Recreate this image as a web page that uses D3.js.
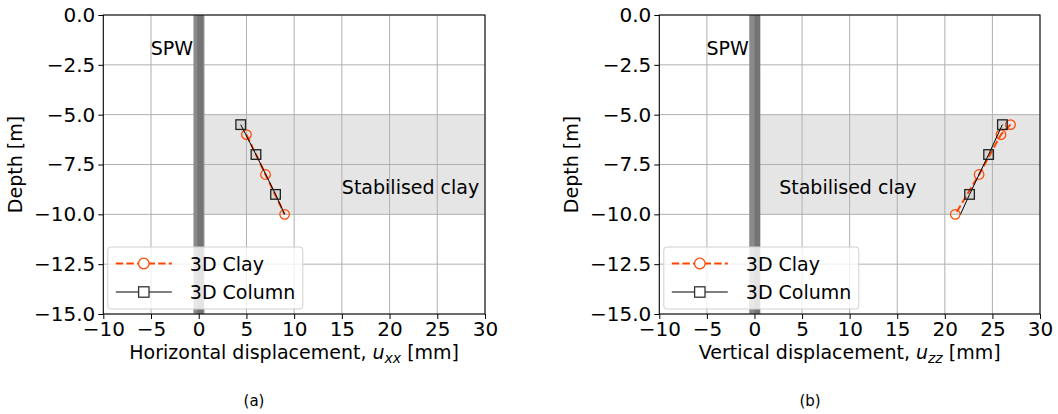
<!DOCTYPE html>
<html><head><meta charset="utf-8">
<script src="https://cdn.jsdelivr.net/npm/d3@7"></script>
<style>body{margin:0;background:#fff}svg{display:block}text{font-family:"DejaVu Sans",sans-serif}</style>
</head><body><svg id="c" width="1058" height="414"></svg>
<script>
// ---- data ----
const xTicks = [-10, -5, 0, 5, 10, 15, 20, 25, 30];
const yTicks = [0, -2.5, -5, -7.5, -10, -12.5, -15];
const legendLabels = ["3D Clay", "3D Column"];
const captions = ["(a)", "(b)"];
const xLabels = [["Horizontal displacement, ", "u", "xx", " [mm]"], ["Vertical displacement, ", "u", "zz", " [mm]"]];

// Panel (a): horizontal displacement
const clayDepthA = [-6, -8, -10];
const clayUxx = [5.0, 7.0, 9.0];
const colDepthA = [-5.5, -7, -9, -10];
const colUxx = [4.4, 6.0, 8.05, 9.0];
const colMarkDepthA = [-5.5, -7, -9];

// Panel (b): vertical displacement
const clayDepthB = [-5.5, -6, -8, -10];
const clayUzz = [26.9, 25.9, 23.6, 21.1];
const colDepthB = [-5.5, -7, -9, -10];
const colUzz = [26.05, 24.6, 22.6, 21.65];
const colMarkDepthB = [-5.5, -7, -9];

const stabDepth = [-5, -10];   // stabilised clay layer
const spwX = [-0.55, 0.6];      // sheet pile wall extent

const svg = d3.select("#c");
const FS = 19;
const TFS = 20;
const ORANGE = "#ff4500";

function panel(o) {
  const g = svg.append("g");
  const x = d3.scaleLinear().domain([-10, 30]).range([o.x0, o.x1]);
  const y = d3.scaleLinear().domain([0, -15]).range([15, 314]);
  // stabilised clay fill
  g.append("rect").attr("x", x(spwX[1])).attr("y", y(stabDepth[0]))
    .attr("width", x(30) - x(spwX[1])).attr("height", y(stabDepth[1]) - y(stabDepth[0]))
    .attr("fill", "#e5e5e5");
  // grid
  g.selectAll(".gx").data(xTicks).join("line")
    .attr("x1", d => x(d)).attr("x2", d => x(d)).attr("y1", y(0)).attr("y2", y(-15))
    .attr("stroke", "#b0b0b0").attr("stroke-width", 1);
  g.selectAll(".gy").data(yTicks).join("line")
    .attr("y1", d => y(d)).attr("y2", d => y(d)).attr("x1", x(-10)).attr("x2", x(30))
    .attr("stroke", "#b0b0b0").attr("stroke-width", 1);
  // SPW band
  g.append("rect").attr("x", x(spwX[0])).attr("y", y(0)).attr("width", x(spwX[1]) - x(spwX[0]))
    .attr("height", y(-15) - y(0)).attr("fill", "#8a8a8a");
  g.append("rect").attr("x", x(o.inner[0])).attr("y", y(0)).attr("width", x(o.inner[1]) - x(o.inner[0]))
    .attr("height", y(-15) - y(0)).attr("fill", "#747474");
  // annotations
  g.append("text").attr("x", x(-0.6)).attr("y", y(-2)).attr("text-anchor", "end")
    .attr("font-size", FS).text("SPW");
  g.append("text").attr("x", x(o.stabX)).attr("y", y(-9)).attr("font-size", FS).text("Stabilised clay");

  // series
  const clay = d3.zip(o.clayX, o.clayD);
  const col = d3.zip(o.colX, o.colD);
  const line = d3.line().x(d => x(d[0])).y(d => y(d[1]));
  g.append("path").attr("d", line(clay)).attr("fill", "none").attr("stroke", ORANGE)
    .attr("stroke-width", 2).attr("stroke-dasharray", "7.4,3.2");
  g.selectAll(".cm").data(clay).join("circle").attr("cx", d => x(d[0])).attr("cy", d => y(d[1]))
    .attr("r", 4.8).attr("fill", "none").attr("stroke", ORANGE).attr("stroke-width", 1.2);
  g.append("path").attr("d", line(col)).attr("fill", "none").attr("stroke", "#000").attr("stroke-width", 1);
  g.selectAll(".sm").data(col.filter(d => o.colMark.includes(d[1]))).join("rect")
    .attr("x", d => x(d[0]) - 4.8).attr("y", d => y(d[1]) - 4.8).attr("width", 9.6).attr("height", 9.6)
    .attr("fill", "rgba(0,0,0,0.06)").attr("stroke", "#222").attr("stroke-width", 1.3);

  // axes
  const ax = g.append("g").attr("transform", `translate(0,${y(-15)})`)
    .call(d3.axisBottom(x).tickValues(xTicks).tickSize(5).tickPadding(3).tickFormat(d => d3.format("")(d).replace("-", "\u2212")));
  const ay = g.append("g").attr("transform", `translate(${x(-10)},0)`)
    .call(d3.axisLeft(y).tickValues(yTicks).tickSize(5).tickPadding(3).tickFormat(d => d3.format(".1f")(d).replace("-", "\u2212")));
  [ax, ay].forEach(a => {
    a.selectAll("text").attr("font-size", TFS).attr("fill", "#000").attr("font-family", "DejaVu Sans");
    a.selectAll("line").attr("stroke", "#000").attr("stroke-width", 1);
    a.select(".domain").remove();
  });
  g.append("rect").attr("x", x(-10)).attr("y", y(0)).attr("width", x(30) - x(-10)).attr("height", y(-15) - y(0))
    .attr("fill", "none").attr("stroke", "#000").attr("stroke-width", 1);

  // axis labels
  const xl = g.append("text").attr("x", (x(-10) + x(30)) / 2).attr("y", 359).attr("text-anchor", "middle").attr("font-size", FS);
  xl.append("tspan").text(o.xlab[0]);
  xl.append("tspan").attr("font-style", "italic").text(o.xlab[1]);
  xl.append("tspan").attr("font-style", "italic").attr("font-size", 14).attr("dy", 4).text(o.xlab[2]);
  xl.append("tspan").attr("dy", -4).text(o.xlab[3]);
  g.append("text").attr("transform", `translate(${o.x0 - 81},${y(-7.5)}) rotate(-90)`).attr("text-anchor", "middle")
    .attr("font-size", FS).text("Depth [m]");

  // legend
  const lx = x(-10) + 4.5, ly = y(-15) - 67;
  const lg = g.append("g");
  lg.append("rect").attr("x", lx).attr("y", ly).attr("width", 195).attr("height", 62).attr("rx", 3)
    .attr("fill", "rgba(255,255,255,0.8)").attr("stroke", "#d0d0d0").attr("stroke-width", 1);
  legendLabels.forEach((lab, i) => {
    const cy = ly + 16.5 + i * 28.5;
    const isClay = i === 0;
    lg.append("line").attr("x1", lx + 8).attr("x2", lx + 64).attr("y1", cy).attr("y2", cy)
      .attr("stroke", isClay ? ORANGE : "#000").attr("stroke-width", isClay ? 2 : 1)
      .attr("stroke-dasharray", isClay ? "7.4,3.2" : null);
    if (isClay) lg.append("circle").attr("cx", lx + 36).attr("cy", cy).attr("r", 5.3).attr("fill", "#fff")
      .attr("stroke", ORANGE).attr("stroke-width", 1.2);
    else lg.append("rect").attr("x", lx + 30.8).attr("y", cy - 5.2).attr("width", 10.4).attr("height", 10.4)
      .attr("fill", "#fff").attr("stroke", "#333").attr("stroke-width", 1.3);
    lg.append("text").attr("x", lx + 82).attr("y", cy + 7).attr("font-size", FS).text(lab);
  });

  // caption
  svg.append("text").attr("x", o.capX).attr("y", 406).attr("text-anchor", "middle")
    .attr("font-family", "Liberation Serif").attr("font-size", 15).text(o.cap);
}

panel({x0: 103.3, x1: 485, clayX: clayUxx, clayD: clayDepthA, colX: colUxx, colD: colDepthA, colMark: colMarkDepthA,
  inner: [-0.15, 0.45], stabX: 15, xlab: xLabels[0], cap: captions[0], capX: 254});
panel({x0: 659.3, x1: 1040, clayX: clayUzz, clayD: clayDepthB, colX: colUzz, colD: colDepthB, colMark: colMarkDepthB,
  inner: [0, 0.6], stabX: 2.6, xlab: xLabels[1], cap: captions[1], capX: 810});
</script></body></html>
